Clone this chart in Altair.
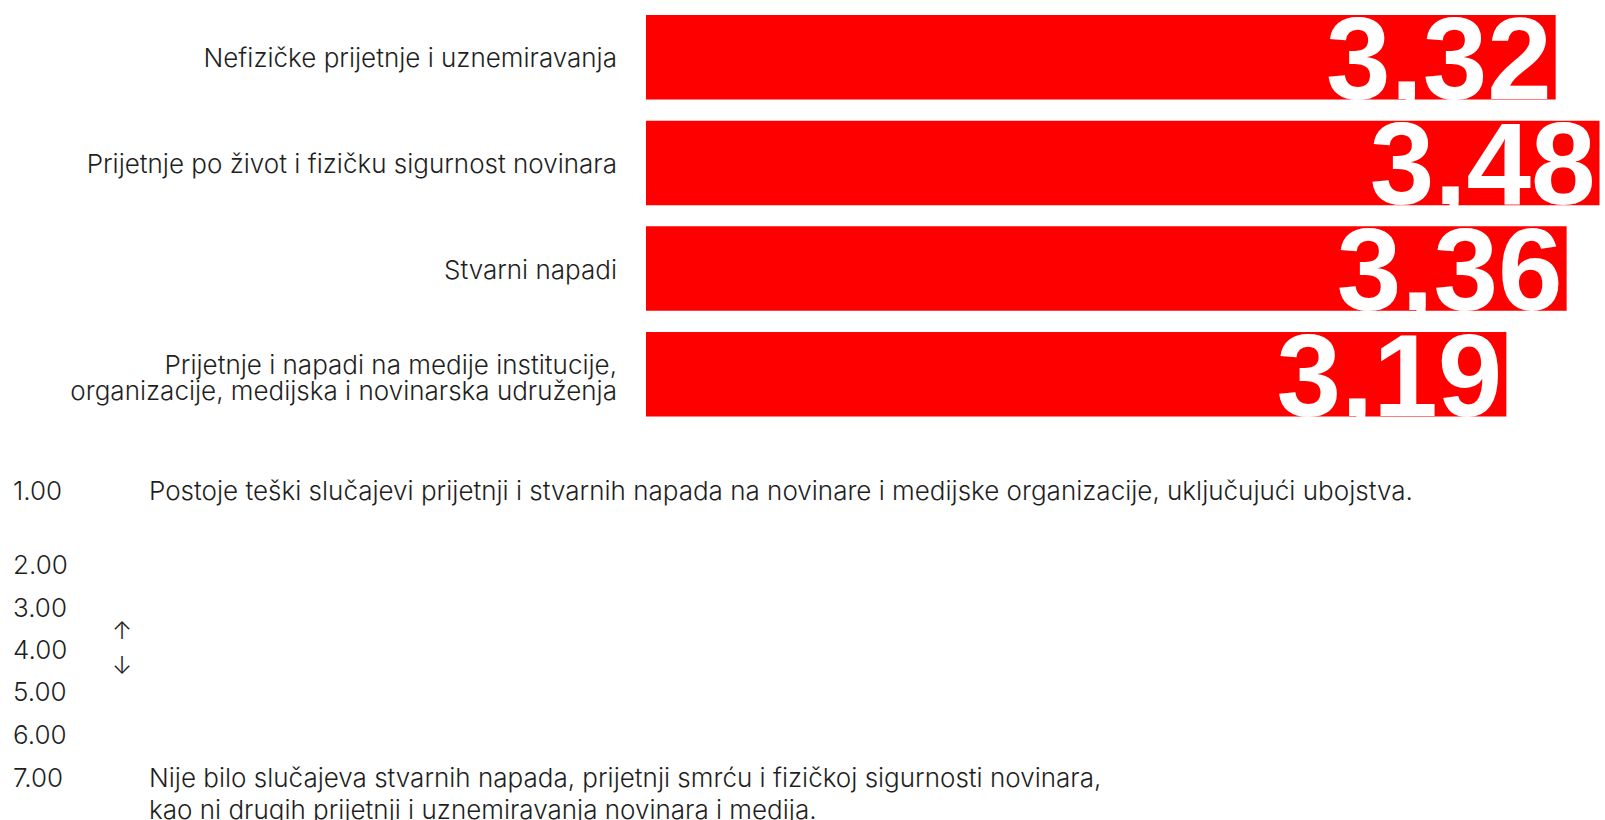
import altair as alt
import pandas as pd

# ---- data ----
categories = [
    "Nefizičke prijetnje i uznemiravanja",
    "Prijetnje po život i fizičku sigurnost novinara",
    "Stvarni napadi",
    "Prijetnje i napadi na medije institucije,\norganizacije, medijska i novinarska udruženja",
]
bar_values = [3.32, 3.48, 3.36, 3.14]      # bar lengths as drawn
label_values = [3.32, 3.48, 3.36, 3.19]    # numbers printed on the bars

legend_levels = ["1.00", "2.00", "3.00", "4.00", "5.00", "6.00", "7.00"]
legend_texts = [
    "Postoje teški slučajevi prijetnji i stvarnih napada na novinare i medijske organizacije, uključujući ubojstva.",
    "", "", "", "", "",
    "Nije bilo slučajeva stvarnih napada, prijetnji smrću i fizičkoj sigurnosti novinara,\nkao ni drugih prijetnji i uznemiravanja novinara i medija.",
]

# ---- layout constants ----
W, H = 1605, 820
BAR_X0, BAR_X1 = 646, 1605
Y0, Y1 = 4.4, 427.1
legend_y = [491.5, 565.5, 608.5, 650.5, 692.5, 735.5, 778.5]
FONT = "Inter"
NUMFONT = "Liberation Sans"
RED = "#ff0000"
TXT = "#1f1f1f"
FS = 26

df = pd.DataFrame({"cat": categories, "val": bar_values, "lab": label_values})
df["multi"] = df["cat"].str.contains("\n")


def yscale():
    return alt.Scale(range=[Y0, Y1], paddingInner=0.2, paddingOuter=0.1)


xscale = alt.Scale(domain=[0, 3.5], range=[BAR_X0, BAR_X1], nice=False, zero=True)

base = alt.Chart(df)

bars = base.mark_bar(color=RED).encode(
    x=alt.X("val:Q", scale=xscale, axis=None),
    y=alt.Y("cat:N", sort=categories, axis=None, scale=yscale()),
)

nums = base.transform_calculate(
    txt="replace(format(datum.lab, '.2f'), '.', ',')"
).mark_text(
    align="right", baseline="alphabetic", font=NUMFONT, fontWeight="bold",
    fontSize=116, color="white", dx=-4, dy=-1,
).encode(
    x=alt.X("val:Q", scale=xscale, axis=None),
    y=alt.Y("cat:N", sort=categories, axis=None, bandPosition=1, scale=yscale()),
    text="txt:N",
)

single_labels = base.transform_filter("!datum.multi").mark_text(
    align="right", baseline="middle", font=FONT, fontWeight=300,
    fontSize=FS, color=TXT, dy=2,
).encode(
    x=alt.value(617),
    y=alt.Y("cat:N", sort=categories, axis=None, bandPosition=0.5, scale=yscale()),
    text="cat:N",
)

multi_labels = base.transform_filter("datum.multi").mark_text(
    align="right", baseline="middle", font=FONT, fontWeight=300,
    fontSize=FS, color=TXT, lineBreak="\n", lineHeight=26, dy=-8,
).encode(
    x=alt.value(617),
    y=alt.Y("cat:N", sort=categories, axis=None, bandPosition=0.5, scale=yscale()),
    text="cat:N",
)

layers = [bars, nums, single_labels, multi_labels]

for lvl, desc, yy in zip(legend_levels, legend_texts, legend_y):
    ldf = pd.DataFrame({"level": [lvl], "desc": [desc]})
    layers.append(
        alt.Chart(ldf).mark_text(
            align="left", baseline="middle", font=FONT, fontWeight=300,
            fontSize=FS, color=TXT,
        ).encode(x=alt.value(13), y=alt.value(yy), text="level:N")
    )
    if desc:
        layers.append(
            alt.Chart(ldf).mark_text(
                align="left", baseline="middle", font=FONT, fontWeight=300,
                fontSize=FS, color=TXT, lineBreak="\n", lineHeight=32,
            ).encode(x=alt.value(149), y=alt.value(yy), text="desc:N")
        )

for sym, yy in [("↑", 632), ("↓", 667)]:
    layers.append(
        alt.Chart(pd.DataFrame({"a": [sym]})).mark_text(
            align="center", baseline="middle", font=FONT, fontWeight=300,
            fontSize=24, color=TXT,
        ).encode(x=alt.value(122), y=alt.value(yy), text="a:N")
    )

chart = alt.layer(*layers).properties(
    width=W, height=H, padding=0, autosize=alt.AutoSizeParams(type="none"),
    background="white",
).configure_view(stroke=None)

chart.save("out.html", embed_options={"renderer": "svg", "actions": False})
